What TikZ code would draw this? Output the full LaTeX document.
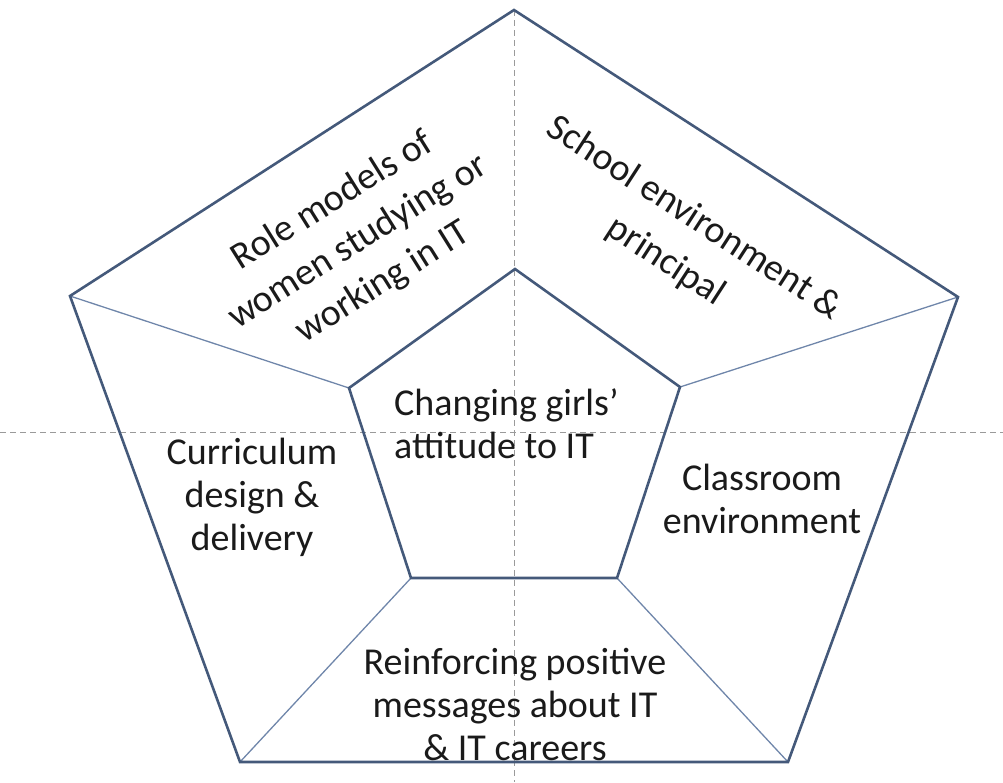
\documentclass[tikz,border=0pt]{standalone}
\usepackage{fontspec}
\setmainfont{Carlito}
\definecolor{edgeblue}{HTML}{44597A}
\definecolor{spokeblue}{HTML}{6F86AA}
\definecolor{dashgray}{HTML}{9A9A9A}
\definecolor{txt}{HTML}{1A1A1A}
\begin{document}
\begin{tikzpicture}[x=1pt,y=-1pt,
  thick edge/.style={draw=edgeblue,line width=2.6pt,line join=miter},
  spoke/.style={draw=spokeblue,line width=1.3pt},
  guide/.style={draw=dashgray,line width=0.9pt,dash pattern=on 6pt off 4pt},
  label/.style={align=center,text=txt,font=\fontsize{38}{43}\selectfont,inner sep=0pt}]
\useasboundingbox (0,0) rectangle (1003,782);
% outer vertices
\coordinate (OT) at (514,10);
\coordinate (OR) at (958,297);
\coordinate (OBR) at (788,762);
\coordinate (OBL) at (240,762);
\coordinate (OL) at (70,296);
% inner vertices
\coordinate (IT) at (515,269);
\coordinate (IR) at (680,387);
\coordinate (IBR) at (617,578);
\coordinate (IBL) at (411,578);
\coordinate (IL) at (349,388);
% guides
\coordinate (VB) at (514,782);
\coordinate (HL) at (0,432);
\coordinate (HR) at (1003,432);
\draw[guide] (OT) -- (VB);
\draw[guide] (HL) -- (HR);
% spokes
\draw[spoke] (OR) -- (IR);
\draw[spoke] (OBR) -- (IBR);
\draw[spoke] (OBL) -- (IBL);
\draw[spoke] (OL) -- (IL);
% pentagons
\draw[thick edge] (OT) -- (OR) -- (OBR) -- (OBL) -- (OL) -- cycle;
\draw[thick edge] (IT) -- (IR) -- (IBR) -- (IBL) -- (IL) -- cycle;
% labels
\node[label,align=left,anchor=west] (center) at (394,424) {Changing girls’\\attitude to IT};
\node[label] (left) at (252,497) {Curriculum\\design \&\\delivery};
\node[label] (right) at (762,499) {Classroom\\environment};
\node[label] (bottom) at (515,704) {Reinforcing positive\\messages about IT\\\& IT careers};
\node[label,rotate=32,font=\fontsize{38}{48}\selectfont] (ul) at (358,242) {Role models of\\women studying or\\working in IT};
\node[label,rotate=-33,font=\fontsize{38}{52}\selectfont] (ur) at (680,240) {School environment \&\\principal};
\end{tikzpicture}
\end{document}
